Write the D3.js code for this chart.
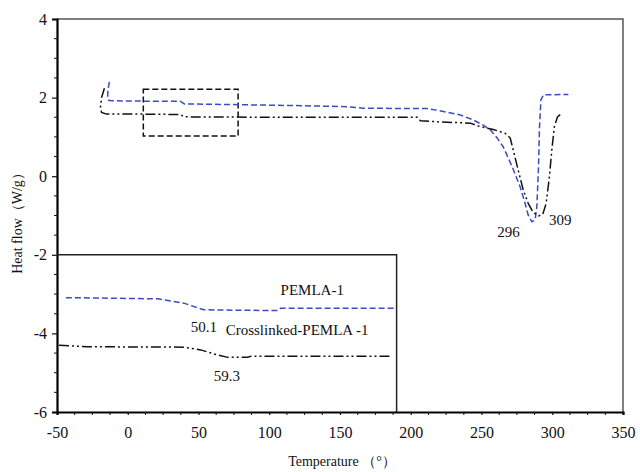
<!DOCTYPE html>
<html lang="en">
<head>
<meta charset="UTF-8">
<title>DSC curves</title>
<script src="https://d3js.org/d3.v7.min.js"></script>
<style>
  body { margin: 0; background: #fff; }
  svg text { font-family: "Liberation Serif", "DejaVu Serif", serif; fill: #111; }
  .tick text { font-size: 16px; }
  .curve { fill: none; stroke-width: 1.5px; }
</style>
</head>
<body>
<div id="chart"></div>
<script>
// tick values
const xTicks = [-50, 0, 50, 100, 150, 200, 250, 300, 350];
const yTicks = [-6, -4, -2, 0, 2, 4];

// main curves (temperature, heat flow)
const pemlaT  = [-13.0, -14.0, -14.2, -13.5, -11.5, 10.5, 37, 40, 113.9, 155.3, 166.6, 211.7, 218.6, 235, 244.2, 251.2, 256.2, 261.1, 265.3, 271.7, 277.3, 280.8, 283, 285.6, 287.9, 289.1, 290.3, 291, 292, 293.8, 311.4];
const pemlaHF = [2.40, 2.20, 2.00, 1.93, 1.92, 1.91, 1.91, 1.84, 1.80, 1.77, 1.73, 1.72, 1.68, 1.56, 1.43, 1.30, 1.18, 0.97, 0.75, 0.24, -0.27, -0.69, -0.99, -1.16, -1.11, -0.78, 0.24, 1.26, 1.94, 2.07, 2.08];

const crossT  = [-16.5, -18.5, -19.3, -18.5, -15, 10, 37, 40, 100, 160, 204.7, 206.8, 220.9, 242.1, 249.1, 258.3, 266.8, 270.3, 272.4, 275.9, 279.5, 283, 286.5, 290.3, 293.3, 295.7, 298, 299.7, 301.5, 303.7, 306.8];
const crossHF = [2.24, 2.00, 1.75, 1.62, 1.58, 1.58, 1.57, 1.51, 1.50, 1.50, 1.50, 1.41, 1.38, 1.35, 1.26, 1.19, 1.09, 0.97, 0.67, 0.16, -0.35, -0.69, -0.92, -1.01, -0.97, -0.69, -0.01, 0.67, 1.26, 1.51, 1.60];

// inset curves, drawn in main axis units
const insetPemlaT  = [-43.7, 21.3, 39.6, 53.7, 105.9, 108, 189];
const insetPemlaHF = [-3.09, -3.12, -3.23, -3.40, -3.42, -3.36, -3.36];
const insetCrossT  = [-48.6, -28, 39.6, 51.6, 63.6, 70.6, 84.7, 86.9, 187];
const insetCrossHF = [-4.30, -4.34, -4.35, -4.42, -4.55, -4.61, -4.61, -4.58, -4.58];

// inset frame and zoomed region [x0, x1, y0, y1]
const insetBox = [-50, 190, -6, -2];
const zoomBox = [11, 78, 1.02, 2.21];

// annotations [text, x, y]
const peakLabels = [["296", 269, -1.55], ["309", 305.6, -1.24]];
const insetLabels = [["PEMLA-1", 108, -3.02], ["Crosslinked-PEMLA -1", 69.2, -4.04], ["50.1", 44.5, -3.96], ["59.3", 60.8, -5.21]];

const W = 640, H = 472;
const margin = { top: 19, right: 17, bottom: 60, left: 57 };
const width = W - margin.left - margin.right,
      height = H - margin.top - margin.bottom;

const x = d3.scaleLinear().domain([-50, 350]).range([0, width]);
const y = d3.scaleLinear().domain([-6, 4]).range([height, 0]);

const svg = d3.select("#chart").append("svg")
    .attr("width", W).attr("height", H);
const g = svg.append("g").attr("transform", `translate(${margin.left},${margin.top})`);

// top / right frame
g.append("path")
    .attr("d", `M0,0H${width}V${height}`)
    .attr("fill", "none").attr("stroke", "#555").attr("stroke-width", 1.5);

// minor ticks
const xMinor = d3.range(-50, 351, 12.5).filter(v => v % 50 !== 0);
const yMinor = d3.range(-6, 4.01, 0.5).filter(v => v % 2 !== 0);

const xAxis = g.append("g").attr("transform", `translate(0,${height})`)
    .call(d3.axisBottom(x).tickValues(xTicks).tickSize(3).tickPadding(12).tickFormat(d => String(d)));
xAxis.append("g").selectAll("line").data(xMinor).join("line")
    .attr("x1", d => x(d)).attr("x2", d => x(d)).attr("y1", 0).attr("y2", 3)
    .attr("stroke", "#111");

const yAxis = g.append("g")
    .call(d3.axisLeft(y).tickValues(yTicks).tickSize(5).tickPadding(5).tickFormat(d => String(d)));
yAxis.append("g").selectAll("line").data(yMinor).join("line")
    .attr("y1", d => y(d)).attr("y2", d => y(d)).attr("x1", 0).attr("x2", -3)
    .attr("stroke", "#111");

[xAxis, yAxis].forEach(a => {
  a.select(".domain").attr("stroke", "#000").attr("stroke-width", 2.2);
  a.selectAll(".tick line").attr("stroke", "#111").attr("stroke-width", 1.2);
  a.selectAll(".tick text").attr("fill", "#111");
});

// dashed zoom region
g.append("rect")
    .attr("x", x(zoomBox[0])).attr("y", y(zoomBox[3]))
    .attr("width", x(zoomBox[1]) - x(zoomBox[0]))
    .attr("height", y(zoomBox[2]) - y(zoomBox[3]))
    .attr("fill", "none").attr("stroke", "#111").attr("stroke-width", 1.5)
    .attr("stroke-dasharray", "6,3");

const line = d3.line().x(d => x(d[0])).y(d => y(d[1]));
const zip = (a, b) => a.map((v, i) => [v, b[i]]);

const series = [
  { t: pemlaT, hf: pemlaHF, color: "#3a4cc0", dash: "6,3" },
  { t: crossT, hf: crossHF, color: "#111", dash: "10,3,2,3,2,3" },
  { t: insetPemlaT, hf: insetPemlaHF, color: "#3a4cc0", dash: "6,3" },
  { t: insetCrossT, hf: insetCrossHF, color: "#111", dash: "10,3,2,3,2,3" }
];

// inset frame
g.append("path")
    .attr("d", `M${x(insetBox[0])},${y(insetBox[3])}H${x(insetBox[1])}V${y(insetBox[2])}`)
    .attr("fill", "none").attr("stroke", "#222").attr("stroke-width", 1.5);

series.forEach(s => {
  g.append("path")
      .datum(zip(s.t, s.hf))
      .attr("class", "curve")
      .attr("stroke", s.color)
      .attr("stroke-dasharray", s.dash)
      .attr("d", line);
});

g.selectAll(".peak").data(peakLabels).join("text")
    .attr("class", "peak")
    .attr("x", d => x(d[1])).attr("y", d => y(d[2]))
    .attr("text-anchor", "middle")
    .style("font-size", "15px")
    .text(d => d[0]);

g.selectAll(".ilabel").data(insetLabels).join("text")
    .attr("class", "ilabel")
    .attr("x", d => x(d[1])).attr("y", d => y(d[2]))
    .style("font-size", "15px")
    .text(d => d[0]);

// axis titles
svg.append("text")
    .attr("x", 342).attr("y", 466)
    .attr("text-anchor", "middle")
    .style("font-size", "14px")
    .text("Temperature （°）");

svg.append("text")
    .attr("transform", "translate(22,220) rotate(-90)")
    .attr("text-anchor", "middle")
    .style("font-size", "14px")
    .text("Heat flow（W/g）");
</script>
</body>
</html>
